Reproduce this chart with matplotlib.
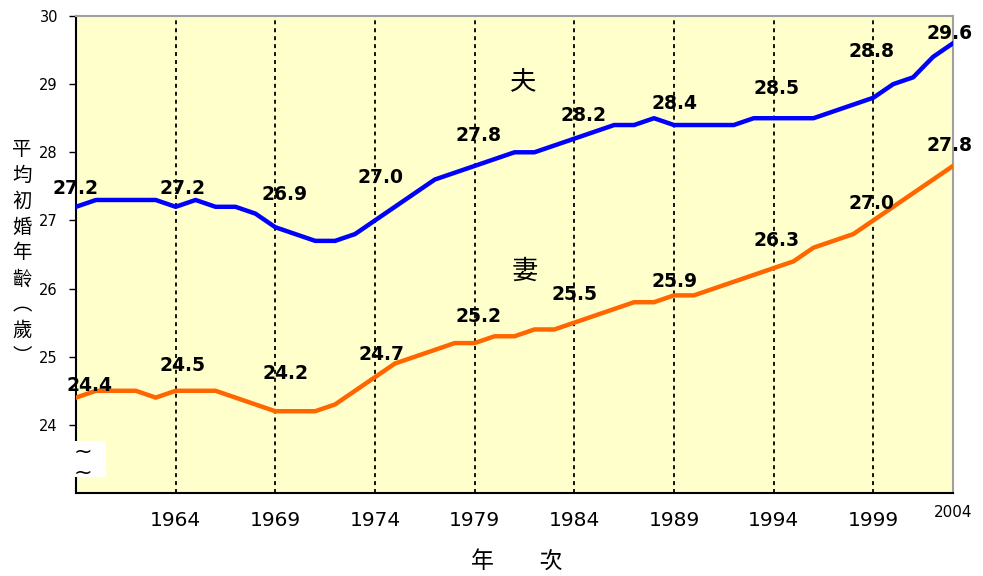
import matplotlib
matplotlib.use("Agg")
import matplotlib.pyplot as plt
from matplotlib.patches import Rectangle
import matplotlib.transforms as mtransforms

plt.rcParams['font.family'] = ['Noto Sans CJK TC', 'DejaVu Sans']

# ---- data ----
years = list(range(1959, 2004))
husband = [27.2, 27.3, 27.3, 27.3, 27.3, 27.2, 27.3, 27.2, 27.2, 27.1,
           26.9, 26.8, 26.7, 26.7, 26.8, 27.0, 27.2, 27.4, 27.6, 27.7,
           27.8, 27.9, 28.0, 28.0, 28.1, 28.2, 28.3, 28.4, 28.4, 28.5,
           28.4, 28.4, 28.4, 28.4, 28.5, 28.5, 28.5, 28.5, 28.6, 28.7,
           28.8, 29.0, 29.1, 29.4, 29.6]
wife = [24.4, 24.5, 24.5, 24.5, 24.4, 24.5, 24.5, 24.5, 24.4, 24.3,
        24.2, 24.2, 24.2, 24.3, 24.5, 24.7, 24.9, 25.0, 25.1, 25.2,
        25.2, 25.3, 25.3, 25.4, 25.4, 25.5, 25.6, 25.7, 25.8, 25.8,
        25.9, 25.9, 26.0, 26.1, 26.2, 26.3, 26.4, 26.6, 26.7, 26.8,
        27.0, 27.2, 27.4, 27.6, 27.8]
label_years = [1959, 1964, 1969, 1974, 1979, 1984, 1989, 1994, 1999, 2003]
xtick_pos = [1964, 1969, 1974, 1979, 1984, 1989, 1994, 1999, 2003]
xtick_labels = ['1964', '1969', '1974', '1979', '1984', '1989', '1994', '1999', '2004']
yticks = [24, 25, 26, 27, 28, 29, 30]
series_names = ['夫', '妻']
ylabel_text = '平均初婚年齡︵歲︶'
xlabel_text = '年\u3000\u3000次'

# label offsets (pixels: dx, dy up)
h_off = [(-1, 18), (7, 18), (9, 33), (6, 43), (4, 30), (9, 23), (1, 22), (3, 30), (-2, 46), (-3, 10)]
w_off = [(14, 12), (7, 25), (10, 38), (7, 23), (4, 27), (0, 28), (1, 14), (3, 28), (-2, 17), (-4, 20)]

W, H = 983, 576
fig = plt.figure(figsize=(W / 100, H / 100), dpi=100)
ax = fig.add_axes([76 / W, 1 - 493 / H, 877 / W, 477 / H])
ax.set_facecolor('#FFFFCC')

ax.set_xlim(1959, 2003)
ax.set_ylim(23, 30)

for x in xtick_pos[:-1]:
    ax.axvline(x, color='black', lw=1.3, ls=(0, (2.2, 2.2)), zorder=1)

ax.plot(years, husband, color='#0000FF', lw=3.2, zorder=3, solid_joinstyle='round')
ax.plot(years, wife, color='#FF6600', lw=3.2, zorder=3, solid_joinstyle='round')

k = 0.72
for (yr, (dx, dy)) in zip(label_years, h_off):
    v = husband[years.index(yr)]
    ax.annotate(f'{v:.1f}', xy=(yr, v), xytext=(dx * k, dy * k), textcoords='offset points',
                ha='center', va='center', fontsize=13.5, fontweight='bold',
                family='DejaVu Sans', annotation_clip=False, zorder=5)
for (yr, (dx, dy)) in zip(label_years, w_off):
    v = wife[years.index(yr)]
    ax.annotate(f'{v:.1f}', xy=(yr, v), xytext=(dx * k, dy * k), textcoords='offset points',
                ha='center', va='center', fontsize=13.5, fontweight='bold',
                family='DejaVu Sans', annotation_clip=False, zorder=5)

# series names
ax.text(1981.45, 29.03, series_names[0], ha='center', va='center', fontsize=19)
ax.text(1981.5, 26.26, series_names[1], ha='center', va='center', fontsize=19)

# spines
for s in ['left', 'bottom']:
    ax.spines[s].set_color('black')
    ax.spines[s].set_linewidth(1.5)
for s in ['top', 'right']:
    ax.spines[s].set_color('#A0A0A0')
    ax.spines[s].set_linewidth(1.5)

ax.set_yticks(yticks)
ax.set_yticklabels([str(t) for t in yticks], family='DejaVu Sans', fontsize=10.5)
ax.tick_params(axis='y', length=5, width=1, direction='out', pad=8)
ax.set_xticks(xtick_pos)
ax.set_xticklabels(xtick_labels, family='DejaVu Sans', fontsize=14.5)
ax.tick_params(axis='x', length=0, pad=13)
lbls = ax.get_xticklabels()
lbls[-1].set_fontsize(11)
lbls[-1].set_y(0.012)

# axis break marker
trans = mtransforms.blended_transform_factory(ax.transAxes, ax.transData)
ax.add_patch(Rectangle((-4 / 877, 23.24), 34 / 877, 0.53, transform=trans,
                       facecolor='white', edgecolor='none', clip_on=False, zorder=6))
ax.text(7 / 877, 23.6, '~', transform=trans, ha='center', va='center', fontsize=16,
        family='DejaVu Sans', zorder=7, clip_on=False)
ax.text(7 / 877, 23.3, '~', transform=trans, ha='center', va='center', fontsize=16,
        family='DejaVu Sans', zorder=7, clip_on=False)

# y label vertical stacked
fig.text(22 / W, 1 - 253 / H, '\n'.join(ylabel_text), ha='center', va='center',
         fontsize=14, linespacing=1.30)
# x label
fig.text(517 / W, 1 - 561 / H, xlabel_text, ha='center', va='center', fontsize=16.5)

fig.savefig('out.png', dpi=100)
